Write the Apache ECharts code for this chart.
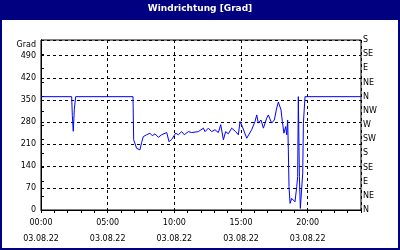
<!DOCTYPE html>
<html>
<head>
<meta charset="utf-8">
<script src="https://cdn.jsdelivr.net/npm/echarts@6/dist/echarts.min.js"></script>
<style>
html,body{margin:0;padding:0;background:#fff;}
#c{width:400px;height:250px;}
</style>
</head>
<body>
<div id="c"></div>
<script>
// Data: time in hours since 03.08.22 00:00, wind direction in degrees
var times = [0, 2.3, 2.35, 2.42, 2.5, 2.6, 6.9, 6.95, 7.17, 7.42, 7.55, 7.67, 7.92, 8.17, 8.35, 8.55, 8.8, 9.05, 9.43, 9.6, 9.8,
  10.1, 10.3, 10.55, 10.75, 11.05, 11.3, 11.8, 12.18, 12.3, 12.43, 12.55, 12.8, 13.05, 13.3, 13.48, 13.68, 13.85, 14.05, 14.3,
  14.6, 14.8, 14.93, 15.1, 15.43, 15.55, 15.8, 16.05, 16.18, 16.3, 16.5, 16.68, 16.93, 17.05, 17.3, 17.5, 17.68, 17.8, 18.0,
  18.1, 18.22, 18.35, 18.43, 18.5, 18.55, 18.6, 18.68, 18.8, 18.93, 19.05, 19.18, 19.25, 19.3, 19.38, 19.45, 19.55, 19.63,
  19.68, 19.8, 24];
var values = [360, 360, 300, 250, 320, 360, 360, 223, 196, 191, 215, 233, 239, 244, 236, 242, 231, 239, 246, 217, 224,
  244, 239, 249, 239, 249, 246, 249, 260, 249, 246, 260, 249, 255, 246, 271, 223, 249, 242, 260,
  249, 239, 281, 265, 228, 233, 255, 281, 302, 276, 286, 260, 292, 302, 276, 286, 324, 343, 318,
  281, 244, 265, 239, 286, 191, 74, 21, 37, 42, 26, 74, 106, 360, 106, 5, 10, 117,
  276, 360, 360];
var xTickLabels = ['00:00', '05:00', '10:00', '15:00', '20:00'];
var dateLabel = '03.08.22';
var dirLabels = ['N', 'NE', 'E', 'SE', 'S', 'SW', 'W', 'NW', 'N', 'NE', 'E', 'SE', 'S'];
var titleText = 'Windrichtung [Grad]';
var yName = 'Grad';

var seriesData = times.map(function (t, i) { return [t, values[i]]; });
var font = 'DejaVu Sans';
var navy = '#000080';

var chart = echarts.init(document.getElementById('c'), null, {renderer: 'canvas'});
chart.setOption({
  animation: false,
  backgroundColor: '#ffffff',
  title: {
    text: titleText,
    left: 'center',
    top: 4,
    padding: 0,
    textStyle: {color: '#ffffff', fontFamily: font, fontWeight: 'bold', fontSize: 9}
  },
  graphic: [
    {type: 'rect', z: -1, shape: {x: 0, y: 0, width: 400, height: 20}, style: {fill: navy}},
    {type: 'rect', z: 100, shape: {x: 1, y: 1, width: 398, height: 248}, style: {fill: null, stroke: navy, lineWidth: 2}}
  ],
  grid: {left: 41, top: 40, width: 320, height: 170, show: true, borderColor: '#000', borderWidth: 1, backgroundColor: 'transparent'},
  xAxis: [{
    type: 'value', min: 0, max: 24, interval: 1, position: 'bottom',
    axisLine: {show: true, lineStyle: {color: '#000', width: 1}},
    axisTick: {show: true, length: 3, inside: false, lineStyle: {color: '#000'}},
    splitLine: {show: false},
    axisLabel: {
      margin: 5, fontFamily: font, fontSize: 8, color: '#000', lineHeight: 16,
      formatter: function (v) {
        if (v % 5 !== 0 || v / 5 >= xTickLabels.length) return '';
        return xTickLabels[v / 5] + '\n' + dateLabel;
      }
    }
  }, {
    type: 'value', min: 0, max: 24, interval: 5, position: 'top',
    axisLine: {show: false}, axisTick: {show: false}, axisLabel: {show: false},
    splitLine: {show: true, lineStyle: {color: '#000', width: 1, type: [3, 3]}}
  }],
  yAxis: [{
    type: 'value', min: 0, max: 540, interval: 70, position: 'left',
    name: yName, nameLocation: 'end', nameGap: -5,
    nameTextStyle: {fontFamily: font, fontSize: 8, color: '#000', align: 'right', verticalAlign: 'middle', padding: [0, 5, 0, 0]},
    axisLine: {show: true, lineStyle: {color: '#000'}},
    axisTick: {show: false},
    splitLine: {show: true, lineStyle: {color: '#000', width: 1, type: [3, 3]}},
    axisLabel: {
      margin: 5, fontFamily: font, fontSize: 8, color: '#000',
      formatter: function (v) { return v > 490 ? '' : String(v); }
    }
  }, {
    type: 'value', min: 0, max: 540, interval: 45, position: 'right',
    axisLine: {show: true, lineStyle: {color: '#000'}},
    axisTick: {show: true, length: 3, inside: false, lineStyle: {color: '#000'}},
    splitLine: {show: false},
    axisLabel: {
      margin: 2, fontFamily: font, fontSize: 8, color: '#000',
      formatter: function (v) { return dirLabels[Math.round(v / 45)] || ''; }
    }
  }],
  series: [{
    type: 'line', xAxisIndex: 0, yAxisIndex: 0,
    data: seriesData, showSymbol: false, symbol: 'none',
    lineStyle: {color: '#0000ff', width: 1},
    clip: true
  }]
});
</script>
</body>
</html>
